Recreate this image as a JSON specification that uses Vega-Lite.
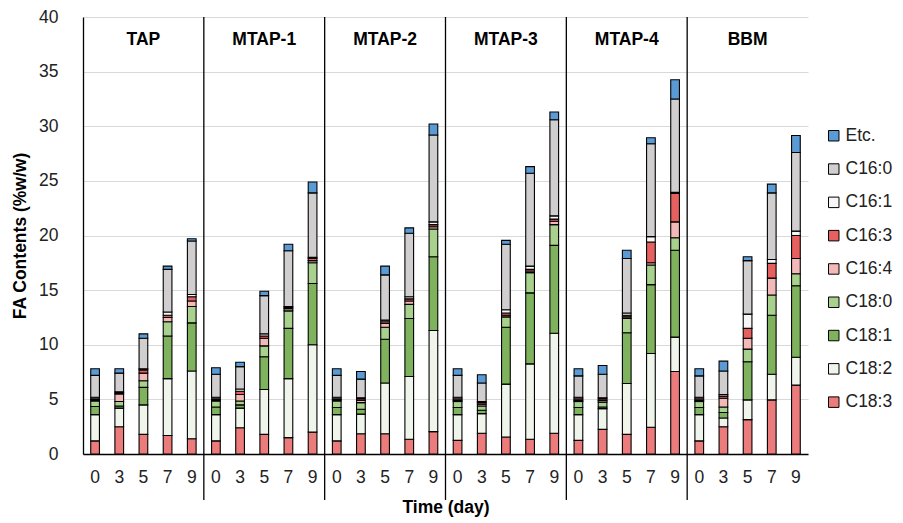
{
  "$schema": "https://vega.github.io/schema/vega-lite/v6.json",
  "width": 725,
  "height": 437,
  "autosize": {"type": "none"},
  "padding": {"left": 83, "top": 17, "right": 95, "bottom": 69},
  "background": "white",
  "config": {"view": {"stroke": null}, "font": "Liberation Sans"},
  "data": {"values": [
    {"group":"TAP","day":0,"acid":"C18:3","value":1.2},{"group":"TAP","day":0,"acid":"C18:2","value":2.4},{"group":"TAP","day":0,"acid":"C18:1","value":0.75},{"group":"TAP","day":0,"acid":"C18:0","value":0.5},{"group":"TAP","day":0,"acid":"C16:4","value":0.1},{"group":"TAP","day":0,"acid":"C16:3","value":0.1},{"group":"TAP","day":0,"acid":"C16:1","value":0.15},{"group":"TAP","day":0,"acid":"C16:0","value":2.0},{"group":"TAP","day":0,"acid":"Etc.","value":0.6},
    {"group":"TAP","day":3,"acid":"C18:3","value":2.5},{"group":"TAP","day":3,"acid":"C18:2","value":1.7},{"group":"TAP","day":3,"acid":"C18:1","value":0.2},{"group":"TAP","day":3,"acid":"C18:0","value":0.4},{"group":"TAP","day":3,"acid":"C16:4","value":0.7},{"group":"TAP","day":3,"acid":"C16:3","value":0.1},{"group":"TAP","day":3,"acid":"C16:1","value":0.1},{"group":"TAP","day":3,"acid":"C16:0","value":1.7},{"group":"TAP","day":3,"acid":"Etc.","value":0.4},
    {"group":"TAP","day":5,"acid":"C18:3","value":1.8},{"group":"TAP","day":5,"acid":"C18:2","value":2.7},{"group":"TAP","day":5,"acid":"C18:1","value":1.6},{"group":"TAP","day":5,"acid":"C18:0","value":0.6},{"group":"TAP","day":5,"acid":"C16:4","value":0.7},{"group":"TAP","day":5,"acid":"C16:3","value":0.3},{"group":"TAP","day":5,"acid":"C16:1","value":0.1},{"group":"TAP","day":5,"acid":"C16:0","value":2.8},{"group":"TAP","day":5,"acid":"Etc.","value":0.4},
    {"group":"TAP","day":7,"acid":"C18:3","value":1.7},{"group":"TAP","day":7,"acid":"C18:2","value":5.2},{"group":"TAP","day":7,"acid":"C18:1","value":3.9},{"group":"TAP","day":7,"acid":"C18:0","value":1.3},{"group":"TAP","day":7,"acid":"C16:4","value":0.4},{"group":"TAP","day":7,"acid":"C16:3","value":0.2},{"group":"TAP","day":7,"acid":"C16:1","value":0.3},{"group":"TAP","day":7,"acid":"C16:0","value":3.9},{"group":"TAP","day":7,"acid":"Etc.","value":0.3},
    {"group":"TAP","day":9,"acid":"C18:3","value":1.4},{"group":"TAP","day":9,"acid":"C18:2","value":6.2},{"group":"TAP","day":9,"acid":"C18:1","value":4.4},{"group":"TAP","day":9,"acid":"C18:0","value":1.5},{"group":"TAP","day":9,"acid":"C16:4","value":0.5},{"group":"TAP","day":9,"acid":"C16:3","value":0.4},{"group":"TAP","day":9,"acid":"C16:1","value":0.2},{"group":"TAP","day":9,"acid":"C16:0","value":4.9},{"group":"TAP","day":9,"acid":"Etc.","value":0.2},
    {"group":"MTAP-1","day":0,"acid":"C18:3","value":1.2},{"group":"MTAP-1","day":0,"acid":"C18:2","value":2.4},{"group":"MTAP-1","day":0,"acid":"C18:1","value":0.7},{"group":"MTAP-1","day":0,"acid":"C18:0","value":0.55},{"group":"MTAP-1","day":0,"acid":"C16:4","value":0.1},{"group":"MTAP-1","day":0,"acid":"C16:3","value":0.1},{"group":"MTAP-1","day":0,"acid":"C16:1","value":0.15},{"group":"MTAP-1","day":0,"acid":"C16:0","value":2.1},{"group":"MTAP-1","day":0,"acid":"Etc.","value":0.6},
    {"group":"MTAP-1","day":3,"acid":"C18:3","value":2.4},{"group":"MTAP-1","day":3,"acid":"C18:2","value":1.8},{"group":"MTAP-1","day":3,"acid":"C18:1","value":0.3},{"group":"MTAP-1","day":3,"acid":"C18:0","value":0.35},{"group":"MTAP-1","day":3,"acid":"C16:4","value":0.6},{"group":"MTAP-1","day":3,"acid":"C16:3","value":0.3},{"group":"MTAP-1","day":3,"acid":"C16:1","value":0.2},{"group":"MTAP-1","day":3,"acid":"C16:0","value":2.05},{"group":"MTAP-1","day":3,"acid":"Etc.","value":0.4},
    {"group":"MTAP-1","day":5,"acid":"C18:3","value":1.8},{"group":"MTAP-1","day":5,"acid":"C18:2","value":4.1},{"group":"MTAP-1","day":5,"acid":"C18:1","value":3.0},{"group":"MTAP-1","day":5,"acid":"C18:0","value":1.0},{"group":"MTAP-1","day":5,"acid":"C16:4","value":0.7},{"group":"MTAP-1","day":5,"acid":"C16:3","value":0.2},{"group":"MTAP-1","day":5,"acid":"C16:1","value":0.2},{"group":"MTAP-1","day":5,"acid":"C16:0","value":3.5},{"group":"MTAP-1","day":5,"acid":"Etc.","value":0.4},
    {"group":"MTAP-1","day":7,"acid":"C18:3","value":1.5},{"group":"MTAP-1","day":7,"acid":"C18:2","value":5.4},{"group":"MTAP-1","day":7,"acid":"C18:1","value":4.6},{"group":"MTAP-1","day":7,"acid":"C18:0","value":1.6},{"group":"MTAP-1","day":7,"acid":"C16:4","value":0.2},{"group":"MTAP-1","day":7,"acid":"C16:3","value":0.1},{"group":"MTAP-1","day":7,"acid":"C16:1","value":0.1},{"group":"MTAP-1","day":7,"acid":"C16:0","value":5.1},{"group":"MTAP-1","day":7,"acid":"Etc.","value":0.6},
    {"group":"MTAP-1","day":9,"acid":"C18:3","value":2.0},{"group":"MTAP-1","day":9,"acid":"C18:2","value":8.0},{"group":"MTAP-1","day":9,"acid":"C18:1","value":5.6},{"group":"MTAP-1","day":9,"acid":"C18:0","value":1.9},{"group":"MTAP-1","day":9,"acid":"C16:4","value":0.2},{"group":"MTAP-1","day":9,"acid":"C16:3","value":0.2},{"group":"MTAP-1","day":9,"acid":"C16:1","value":0.1},{"group":"MTAP-1","day":9,"acid":"C16:0","value":5.9},{"group":"MTAP-1","day":9,"acid":"Etc.","value":1.0},
    {"group":"MTAP-2","day":0,"acid":"C18:3","value":1.2},{"group":"MTAP-2","day":0,"acid":"C18:2","value":2.4},{"group":"MTAP-2","day":0,"acid":"C18:1","value":0.65},{"group":"MTAP-2","day":0,"acid":"C18:0","value":0.6},{"group":"MTAP-2","day":0,"acid":"C16:4","value":0.1},{"group":"MTAP-2","day":0,"acid":"C16:3","value":0.1},{"group":"MTAP-2","day":0,"acid":"C16:1","value":0.15},{"group":"MTAP-2","day":0,"acid":"C16:0","value":2.0},{"group":"MTAP-2","day":0,"acid":"Etc.","value":0.6},
    {"group":"MTAP-2","day":3,"acid":"C18:3","value":1.85},{"group":"MTAP-2","day":3,"acid":"C18:2","value":1.8},{"group":"MTAP-2","day":3,"acid":"C18:1","value":0.45},{"group":"MTAP-2","day":3,"acid":"C18:0","value":0.6},{"group":"MTAP-2","day":3,"acid":"C16:4","value":0.2},{"group":"MTAP-2","day":3,"acid":"C16:3","value":0.15},{"group":"MTAP-2","day":3,"acid":"C16:1","value":0.1},{"group":"MTAP-2","day":3,"acid":"C16:0","value":1.7},{"group":"MTAP-2","day":3,"acid":"Etc.","value":0.7},
    {"group":"MTAP-2","day":5,"acid":"C18:3","value":1.85},{"group":"MTAP-2","day":5,"acid":"C18:2","value":4.65},{"group":"MTAP-2","day":5,"acid":"C18:1","value":4.0},{"group":"MTAP-2","day":5,"acid":"C18:0","value":1.1},{"group":"MTAP-2","day":5,"acid":"C16:4","value":0.35},{"group":"MTAP-2","day":5,"acid":"C16:3","value":0.15},{"group":"MTAP-2","day":5,"acid":"C16:1","value":0.15},{"group":"MTAP-2","day":5,"acid":"C16:0","value":4.15},{"group":"MTAP-2","day":5,"acid":"Etc.","value":0.8},
    {"group":"MTAP-2","day":7,"acid":"C18:3","value":1.35},{"group":"MTAP-2","day":7,"acid":"C18:2","value":5.75},{"group":"MTAP-2","day":7,"acid":"C18:1","value":5.3},{"group":"MTAP-2","day":7,"acid":"C18:0","value":1.3},{"group":"MTAP-2","day":7,"acid":"C16:4","value":0.3},{"group":"MTAP-2","day":7,"acid":"C16:3","value":0.2},{"group":"MTAP-2","day":7,"acid":"C16:1","value":0.2},{"group":"MTAP-2","day":7,"acid":"C16:0","value":5.8},{"group":"MTAP-2","day":7,"acid":"Etc.","value":0.5},
    {"group":"MTAP-2","day":9,"acid":"C18:3","value":2.05},{"group":"MTAP-2","day":9,"acid":"C18:2","value":9.25},{"group":"MTAP-2","day":9,"acid":"C18:1","value":6.75},{"group":"MTAP-2","day":9,"acid":"C18:0","value":2.55},{"group":"MTAP-2","day":9,"acid":"C16:4","value":0.2},{"group":"MTAP-2","day":9,"acid":"C16:3","value":0.2},{"group":"MTAP-2","day":9,"acid":"C16:1","value":0.25},{"group":"MTAP-2","day":9,"acid":"C16:0","value":7.95},{"group":"MTAP-2","day":9,"acid":"Etc.","value":1.0},
    {"group":"MTAP-3","day":0,"acid":"C18:3","value":1.25},{"group":"MTAP-3","day":0,"acid":"C18:2","value":2.35},{"group":"MTAP-3","day":0,"acid":"C18:1","value":0.65},{"group":"MTAP-3","day":0,"acid":"C18:0","value":0.55},{"group":"MTAP-3","day":0,"acid":"C16:4","value":0.1},{"group":"MTAP-3","day":0,"acid":"C16:3","value":0.15},{"group":"MTAP-3","day":0,"acid":"C16:1","value":0.15},{"group":"MTAP-3","day":0,"acid":"C16:0","value":2.0},{"group":"MTAP-3","day":0,"acid":"Etc.","value":0.6},
    {"group":"MTAP-3","day":3,"acid":"C18:3","value":1.9},{"group":"MTAP-3","day":3,"acid":"C18:2","value":1.8},{"group":"MTAP-3","day":3,"acid":"C18:1","value":0.3},{"group":"MTAP-3","day":3,"acid":"C18:0","value":0.4},{"group":"MTAP-3","day":3,"acid":"C16:4","value":0.15},{"group":"MTAP-3","day":3,"acid":"C16:3","value":0.15},{"group":"MTAP-3","day":3,"acid":"C16:1","value":0.1},{"group":"MTAP-3","day":3,"acid":"C16:0","value":1.7},{"group":"MTAP-3","day":3,"acid":"Etc.","value":0.75},
    {"group":"MTAP-3","day":5,"acid":"C18:3","value":1.55},{"group":"MTAP-3","day":5,"acid":"C18:2","value":4.85},{"group":"MTAP-3","day":5,"acid":"C18:1","value":5.2},{"group":"MTAP-3","day":5,"acid":"C18:0","value":0.95},{"group":"MTAP-3","day":5,"acid":"C16:4","value":0.15},{"group":"MTAP-3","day":5,"acid":"C16:3","value":0.2},{"group":"MTAP-3","day":5,"acid":"C16:1","value":0.3},{"group":"MTAP-3","day":5,"acid":"C16:0","value":6.0},{"group":"MTAP-3","day":5,"acid":"Etc.","value":0.35},
    {"group":"MTAP-3","day":7,"acid":"C18:3","value":1.35},{"group":"MTAP-3","day":7,"acid":"C18:2","value":6.9},{"group":"MTAP-3","day":7,"acid":"C18:1","value":6.5},{"group":"MTAP-3","day":7,"acid":"C18:0","value":1.85},{"group":"MTAP-3","day":7,"acid":"C16:4","value":0.15},{"group":"MTAP-3","day":7,"acid":"C16:3","value":0.15},{"group":"MTAP-3","day":7,"acid":"C16:1","value":0.3},{"group":"MTAP-3","day":7,"acid":"C16:0","value":8.5},{"group":"MTAP-3","day":7,"acid":"Etc.","value":0.6},
    {"group":"MTAP-3","day":9,"acid":"C18:3","value":1.9},{"group":"MTAP-3","day":9,"acid":"C18:2","value":9.15},{"group":"MTAP-3","day":9,"acid":"C18:1","value":8.05},{"group":"MTAP-3","day":9,"acid":"C18:0","value":1.9},{"group":"MTAP-3","day":9,"acid":"C16:4","value":0.3},{"group":"MTAP-3","day":9,"acid":"C16:3","value":0.2},{"group":"MTAP-3","day":9,"acid":"C16:1","value":0.3},{"group":"MTAP-3","day":9,"acid":"C16:0","value":8.8},{"group":"MTAP-3","day":9,"acid":"Etc.","value":0.7},
    {"group":"MTAP-4","day":0,"acid":"C18:3","value":1.25},{"group":"MTAP-4","day":0,"acid":"C18:2","value":2.35},{"group":"MTAP-4","day":0,"acid":"C18:1","value":0.65},{"group":"MTAP-4","day":0,"acid":"C18:0","value":0.55},{"group":"MTAP-4","day":0,"acid":"C16:4","value":0.1},{"group":"MTAP-4","day":0,"acid":"C16:3","value":0.15},{"group":"MTAP-4","day":0,"acid":"C16:1","value":0.15},{"group":"MTAP-4","day":0,"acid":"C16:0","value":1.95},{"group":"MTAP-4","day":0,"acid":"Etc.","value":0.65},
    {"group":"MTAP-4","day":3,"acid":"C18:3","value":2.25},{"group":"MTAP-4","day":3,"acid":"C18:2","value":1.9},{"group":"MTAP-4","day":3,"acid":"C18:1","value":0.15},{"group":"MTAP-4","day":3,"acid":"C18:0","value":0.45},{"group":"MTAP-4","day":3,"acid":"C16:4","value":0.15},{"group":"MTAP-4","day":3,"acid":"C16:3","value":0.15},{"group":"MTAP-4","day":3,"acid":"C16:1","value":0.1},{"group":"MTAP-4","day":3,"acid":"C16:0","value":2.15},{"group":"MTAP-4","day":3,"acid":"Etc.","value":0.8},
    {"group":"MTAP-4","day":5,"acid":"C18:3","value":1.8},{"group":"MTAP-4","day":5,"acid":"C18:2","value":4.65},{"group":"MTAP-4","day":5,"acid":"C18:1","value":4.65},{"group":"MTAP-4","day":5,"acid":"C18:0","value":1.3},{"group":"MTAP-4","day":5,"acid":"C16:4","value":0.15},{"group":"MTAP-4","day":5,"acid":"C16:3","value":0.15},{"group":"MTAP-4","day":5,"acid":"C16:1","value":0.2},{"group":"MTAP-4","day":5,"acid":"C16:0","value":5.0},{"group":"MTAP-4","day":5,"acid":"Etc.","value":0.75},
    {"group":"MTAP-4","day":7,"acid":"C18:3","value":2.45},{"group":"MTAP-4","day":7,"acid":"C18:2","value":6.75},{"group":"MTAP-4","day":7,"acid":"C18:1","value":6.3},{"group":"MTAP-4","day":7,"acid":"C18:0","value":1.8},{"group":"MTAP-4","day":7,"acid":"C16:4","value":0.2},{"group":"MTAP-4","day":7,"acid":"C16:3","value":1.9},{"group":"MTAP-4","day":7,"acid":"C16:1","value":0.5},{"group":"MTAP-4","day":7,"acid":"C16:0","value":8.5},{"group":"MTAP-4","day":7,"acid":"Etc.","value":0.55},
    {"group":"MTAP-4","day":9,"acid":"C18:3","value":7.55},{"group":"MTAP-4","day":9,"acid":"C18:2","value":3.15},{"group":"MTAP-4","day":9,"acid":"C18:1","value":7.95},{"group":"MTAP-4","day":9,"acid":"C18:0","value":1.15},{"group":"MTAP-4","day":9,"acid":"C16:4","value":1.45},{"group":"MTAP-4","day":9,"acid":"C16:3","value":2.6},{"group":"MTAP-4","day":9,"acid":"C16:1","value":0.1},{"group":"MTAP-4","day":9,"acid":"C16:0","value":8.55},{"group":"MTAP-4","day":9,"acid":"Etc.","value":1.75},
    {"group":"BBM","day":0,"acid":"C18:3","value":1.2},{"group":"BBM","day":0,"acid":"C18:2","value":2.4},{"group":"BBM","day":0,"acid":"C18:1","value":0.65},{"group":"BBM","day":0,"acid":"C18:0","value":0.55},{"group":"BBM","day":0,"acid":"C16:4","value":0.1},{"group":"BBM","day":0,"acid":"C16:3","value":0.15},{"group":"BBM","day":0,"acid":"C16:1","value":0.15},{"group":"BBM","day":0,"acid":"C16:0","value":1.95},{"group":"BBM","day":0,"acid":"Etc.","value":0.65},
    {"group":"BBM","day":3,"acid":"C18:3","value":2.5},{"group":"BBM","day":3,"acid":"C18:2","value":0.8},{"group":"BBM","day":3,"acid":"C18:1","value":0.5},{"group":"BBM","day":3,"acid":"C18:0","value":0.5},{"group":"BBM","day":3,"acid":"C16:4","value":0.8},{"group":"BBM","day":3,"acid":"C16:3","value":0.2},{"group":"BBM","day":3,"acid":"C16:1","value":0.15},{"group":"BBM","day":3,"acid":"C16:0","value":2.15},{"group":"BBM","day":3,"acid":"Etc.","value":0.9},
    {"group":"BBM","day":5,"acid":"C18:3","value":3.15},{"group":"BBM","day":5,"acid":"C18:2","value":1.8},{"group":"BBM","day":5,"acid":"C18:1","value":3.5},{"group":"BBM","day":5,"acid":"C18:0","value":1.15},{"group":"BBM","day":5,"acid":"C16:4","value":1.0},{"group":"BBM","day":5,"acid":"C16:3","value":0.9},{"group":"BBM","day":5,"acid":"C16:1","value":1.3},{"group":"BBM","day":5,"acid":"C16:0","value":4.9},{"group":"BBM","day":5,"acid":"Etc.","value":0.35},
    {"group":"BBM","day":7,"acid":"C18:3","value":4.95},{"group":"BBM","day":7,"acid":"C18:2","value":2.35},{"group":"BBM","day":7,"acid":"C18:1","value":5.4},{"group":"BBM","day":7,"acid":"C18:0","value":1.85},{"group":"BBM","day":7,"acid":"C16:4","value":1.55},{"group":"BBM","day":7,"acid":"C16:3","value":1.35},{"group":"BBM","day":7,"acid":"C16:1","value":0.35},{"group":"BBM","day":7,"acid":"C16:0","value":6.1},{"group":"BBM","day":7,"acid":"Etc.","value":0.8},
    {"group":"BBM","day":9,"acid":"C18:3","value":6.3},{"group":"BBM","day":9,"acid":"C18:2","value":2.55},{"group":"BBM","day":9,"acid":"C18:1","value":6.55},{"group":"BBM","day":9,"acid":"C18:0","value":1.1},{"group":"BBM","day":9,"acid":"C16:4","value":1.4},{"group":"BBM","day":9,"acid":"C16:3","value":2.1},{"group":"BBM","day":9,"acid":"C16:1","value":0.4},{"group":"BBM","day":9,"acid":"C16:0","value":7.2},{"group":"BBM","day":9,"acid":"Etc.","value":1.55}
  ]},
  "layer": [
    {
      "transform": [{"window": [{"op": "row_number", "as": "stackRank"}], "groupby": ["group", "day"]}],
      "mark": {"type": "bar", "stroke": "black", "strokeWidth": 1.1},
      "encoding": {
        "x": {"field": "group", "type": "nominal", "sort": ["TAP","MTAP-1","MTAP-2","MTAP-3","MTAP-4","BBM"],
              "scale": {"paddingInner": 0, "paddingOuter": 0},
              "axis": {"labels": false, "ticks": false, "domainColor": "black", "domainWidth": 1.3, "title": "Time (day)", "titleFontSize": 17.5, "titleFontWeight": "bold", "titleColor": "black", "titlePadding": 44}},
        "xOffset": {"field": "day", "type": "ordinal", "sort": [0,3,5,7,9], "scale": {"paddingInner": 0.64, "paddingOuter": 0.32}},
        "y": {"field": "value", "type": "quantitative", "stack": "zero",
              "scale": {"domain": [0, 40], "nice": false},
              "axis": {"values": [0,5,10,15,20,25,30,35,40], "title": "FA Contents (%w/w)", "titleFontSize": 17.5, "titleFontWeight": "bold", "titleColor": "black", "titlePadding": 9, "labelFontSize": 17.5, "labelColor": "#222", "labelPadding": 25, "ticks": false, "domainColor": "black", "domainWidth": 1.3, "gridColor": "#d9d9d9", "gridWidth": 1}},
        "order": {"field": "stackRank", "type": "quantitative", "sort": "ascending"},
        "color": {"field": "acid", "type": "nominal", "sort": ["Etc.","C16:0","C16:1","C16:3","C16:4","C18:0","C18:1","C18:2","C18:3"],
                  "scale": {"domain": ["Etc.","C16:0","C16:1","C16:3","C16:4","C18:0","C18:1","C18:2","C18:3"],
                            "range": ["#5b9bd5","#d0cece","#f6f6f6","#e6605f","#f3b9b9","#a9d18e","#7fb25c","#eff5ea","#ec7c7c"]},
                  "legend": {"title": null, "orient": "none", "legendX": 742, "legendY": 110, "symbolType": "square", "symbolSize": 110, "symbolStrokeColor": "black", "symbolStrokeWidth": 1, "symbolOpacity": 1, "labelFontSize": 17.5, "labelColor": "#222", "labelOffset": 3, "rowPadding": 14.3}}
      }
    },
    {
      "transform": [{"filter": "datum.acid == 'Etc.' && datum.day == 0 && datum.group != 'TAP'"}],
      "mark": {"type": "rule", "stroke": "black", "strokeWidth": 1.3},
      "encoding": {
        "x": {"field": "group", "type": "nominal", "sort": ["TAP","MTAP-1","MTAP-2","MTAP-3","MTAP-4","BBM"], "bandPosition": 0},
        "y": {"datum": 40},
        "y2": {"datum": -4.2}
      }
    },
    {
      "transform": [{"filter": "datum.acid == 'Etc.' && datum.day == 0"}],
      "mark": {"type": "text", "fontSize": 17.5, "fontWeight": "bold", "color": "black", "baseline": "middle"},
      "encoding": {
        "x": {"field": "group", "type": "nominal", "sort": ["TAP","MTAP-1","MTAP-2","MTAP-3","MTAP-4","BBM"]},
        "y": {"datum": 37.85},
        "text": {"field": "group"}
      }
    },
    {
      "transform": [{"filter": "datum.acid == 'Etc.'"}],
      "mark": {"type": "text", "fontSize": 17.5, "color": "#222", "baseline": "middle"},
      "encoding": {
        "x": {"field": "group", "type": "nominal", "sort": ["TAP","MTAP-1","MTAP-2","MTAP-3","MTAP-4","BBM"]},
        "xOffset": {"field": "day", "type": "ordinal", "sort": [0,3,5,7,9]},
        "y": {"datum": -2.2},
        "text": {"field": "day"}
      }
    }
  ]
}
